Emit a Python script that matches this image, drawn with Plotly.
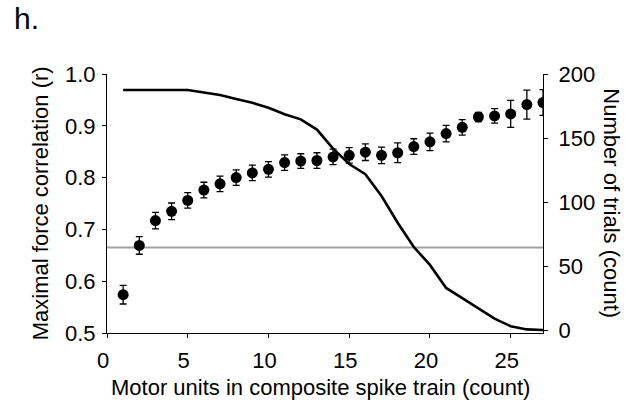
import plotly.graph_objects as go

# Number of motor units pooled into the composite spike train
units = list(range(1, 28))

# Maximal force correlation (mean and error)
max_corr = [0.574, 0.669, 0.717, 0.735, 0.756, 0.776, 0.788, 0.800, 0.809, 0.816,
            0.829, 0.832, 0.833, 0.840, 0.843, 0.849, 0.843, 0.848, 0.860, 0.869,
            0.885, 0.897, 0.917, 0.919, 0.923, 0.941, 0.945]
corr_err = [0.018, 0.017, 0.016, 0.016, 0.015, 0.015, 0.015, 0.015, 0.015, 0.015,
            0.015, 0.014, 0.015, 0.015, 0.015, 0.016, 0.016, 0.019, 0.015, 0.017,
            0.016, 0.015, 0.009, 0.014, 0.026, 0.028, 0.025]

# Number of trials available at each pool size
n_trials = [188, 188, 188, 188, 188, 186, 184, 181, 178, 174,
            169, 165, 157, 142, 130, 122, 105, 84, 65, 51,
            33, 25, 17, 9, 3, 0.5, 0]

# Reference correlation level
ref_level = 0.665

x_ticks = [0, 5, 10, 15, 20, 25]
left_ticks = [0.5, 0.6, 0.7, 0.8, 0.9, 1.0]
right_ticks = [0, 50, 100, 150, 200]

FONT = "Arial, Liberation Sans, sans-serif"
FS = 22

fig = go.Figure()

fig.add_trace(go.Scatter(
    x=[0, 27], y=[ref_level, ref_level], mode="lines",
    line=dict(color="#a3a3a3", width=2), hoverinfo="skip", showlegend=False))

fig.add_trace(go.Scatter(
    x=units, y=n_trials, yaxis="y2", mode="lines",
    line=dict(color="black", width=2.6), showlegend=False))

fig.add_trace(go.Scatter(
    x=units, y=max_corr, mode="markers",
    marker=dict(color="black", size=11),
    error_y=dict(type="data", array=corr_err, color="black", thickness=1.3, width=3.5),
    showlegend=False))

axis_common = dict(
    showgrid=False, zeroline=False, showline=True, linecolor="black", linewidth=1.2,
    ticks="outside", ticklen=4, tickwidth=1.2, tickcolor="black",
    tickfont=dict(family=FONT, size=FS, color="black"),
)

fig.update_layout(
    width=632, height=404,
    margin=dict(l=107, r=89, t=74, b=71),
    paper_bgcolor="white", plot_bgcolor="white",
    xaxis=dict(range=[0, 27], tickvals=x_ticks, ticklabelshift=-4,
               ticklabelstandoff=3, **axis_common),
    yaxis=dict(range=[0.5, 1.0], tickvals=left_ticks, tickformat=".1f",
               ticklabelstandoff=2, **axis_common),
    yaxis2=dict(range=[-2.3, 200.5], tickvals=right_ticks, overlaying="y",
                side="right", ticklabelstandoff=6, **axis_common),
    annotations=[
        dict(text="h.", xref="paper", yref="paper", x=-0.218, y=1.285,
             xanchor="left", yanchor="top", showarrow=False,
             font=dict(family=FONT, size=30, color="black")),
        dict(text="Motor units in composite spike train (count)", xref="paper",
             yref="paper", x=0.49, y=-0.155, xanchor="center", yanchor="top",
             showarrow=False, font=dict(family=FONT, size=FS, color="black")),
        dict(text="Maximal force correlation (r)", xref="paper", yref="paper",
             x=-0.152, y=0.5, xanchor="center", yanchor="middle", textangle=-90,
             showarrow=False, font=dict(family=FONT, size=FS, color="black")),
        dict(text="Number of trials (count)", xref="paper", yref="paper",
             x=1.157, y=0.499, xanchor="center", yanchor="middle", textangle=90,
             showarrow=False, font=dict(family=FONT, size=FS, color="black")),
    ],
)

fig.write_html("out.html")
